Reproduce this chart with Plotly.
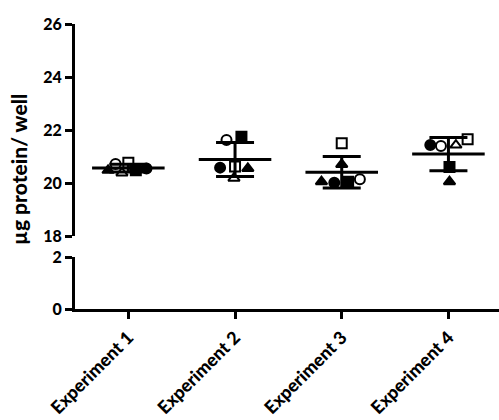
import numpy as np
import plotly.graph_objects as go

# Protein yield per well, six replicate wells per experiment
experiments = ["Experiment 1", "Experiment 2", "Experiment 3", "Experiment 4"]
exp1 = [20.55, 20.72, 20.48, 20.76, 20.48, 20.38]
exp2 = [20.58, 21.62, 21.75, 20.62, 20.55, 20.18]
exp3 = [20.01, 20.14, 20.05, 21.50, 20.05, 20.70]
exp4 = [21.43, 21.40, 20.60, 21.65, 20.05, 21.43]
values = [exp1, exp2, exp3, exp4]

# symbol used for each replicate well, per experiment
base_symbols = ["circle", "circle-open", "square", "square-open",
                "triangle-up", "triangle-up-open"]
symbols = [
    base_symbols,
    base_symbols,
    ["circle", "circle-open", "square", "square-open",
     "triangle-up", "triangle-up"],
    base_symbols,
]

# horizontal scatter of the replicate symbols within each column
jitter = [
    [0.17, -0.12, 0.07, 0.00, -0.19, -0.06],
    [-0.14, -0.08, 0.06, 0.00, 0.12, -0.01],
    [-0.07, 0.17, 0.06, 0.00, -0.19, 0.00],
    [-0.17, -0.07, 0.01, 0.18, 0.01, 0.07],
]

top_ticks = [18, 20, 22, 24, 26]
bottom_ticks = [0, 2]

FONT = "Lato"
BLACK = "#000000"

means = [float(np.mean(v)) for v in values]
sds = [float(np.std(v, ddof=1)) for v in values]

fig = go.Figure()

# empty trace so the lower (broken) axis segment gets its own subplot
fig.add_trace(go.Scatter(x=[None], y=[None], mode="markers", yaxis="y",
                         showlegend=False, hoverinfo="skip"))

# mean bars
hw = 0.34
mx, my = [], []
for i, m in enumerate(means):
    mx += [i - hw, i + hw, None]
    my += [m, m, None]
fig.add_trace(go.Scatter(x=mx, y=my, mode="lines", yaxis="y2",
                         line=dict(color=BLACK, width=3), hoverinfo="skip",
                         showlegend=False))

# SD error bars
fig.add_trace(go.Scatter(
    x=list(range(len(experiments))), y=means, mode="markers", yaxis="y2",
    marker=dict(size=1, color="rgba(0,0,0,0)"),
    error_y=dict(type="data", array=sds, visible=True, color=BLACK,
                 thickness=3, width=19),
    showlegend=False, hoverinfo="skip"))

# replicate symbols, one trace per experiment
for i in range(len(experiments)):
    xs = [i + dx for dx in jitter[i]]
    fig.add_trace(go.Scatter(
        x=xs, y=values[i], mode="markers", yaxis="y2",
        marker=dict(symbol=symbols[i], size=10, color=BLACK,
                    line=dict(color=BLACK, width=2)),
        name=experiments[i], showlegend=False))

axis_common = dict(showline=True, linecolor=BLACK, linewidth=3,
                   ticks="outside", ticklen=7, tickwidth=3, tickcolor=BLACK,
                   showgrid=False, zeroline=False, automargin=False)
x_font = dict(family=FONT, size=18, color=BLACK, weight=900)
y_font = dict(family=FONT, size=16, color=BLACK, weight=900)

plot_h = 309 - 24
fig.update_layout(
    width=499, height=420,
    margin=dict(l=75, r=0, t=24, b=111),
    paper_bgcolor="white", plot_bgcolor="white",
    xaxis=dict(**axis_common, range=[-0.5, 3.474], tickfont=x_font,
               tickvals=list(range(len(experiments))), ticktext=experiments,
               tickangle=-45, anchor="y", ticklabelstandoff=1),
    yaxis=dict(**axis_common, domain=[0, (309 - 257) / plot_h], range=[0, 2],
               tickvals=bottom_ticks, anchor="x", tickfont=y_font),
    yaxis2=dict(**axis_common, domain=[(309 - 236) / plot_h, 1], range=[18, 26],
                tickvals=top_ticks, anchor="x", tickfont=y_font),
    annotations=[dict(text="µg protein/ well", xref="paper", yref="paper",
                      x=(18 - 75) / 424, y=(309 - 170) / plot_h,
                      textangle=-90, showarrow=False, xanchor="center",
                      yanchor="middle",
                      font=dict(family=FONT, size=21, color=BLACK, weight=900))],
)

fig.write_html("out.html")
